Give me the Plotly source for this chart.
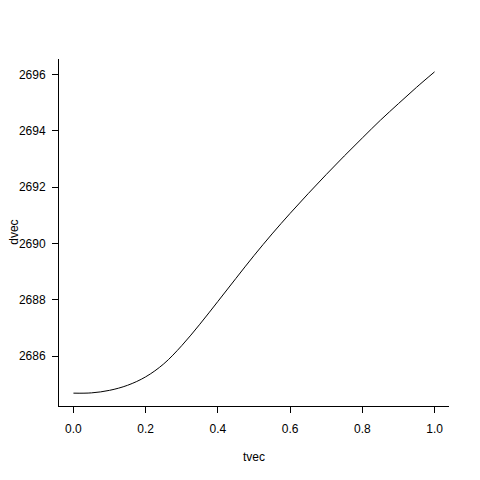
import plotly.graph_objects as go

tvec = [0.00, 0.05, 0.10, 0.15, 0.20, 0.25, 0.30, 0.35, 0.40, 0.45, 0.50,
        0.55, 0.60, 0.65, 0.70, 0.75, 0.80, 0.85, 0.90, 0.95, 1.00]
dvec = [2684.68, 2684.69, 2684.78, 2684.96, 2685.26, 2685.72, 2686.37, 2687.13,
        2687.94, 2688.76, 2689.57, 2690.34, 2691.07, 2691.77, 2692.45, 2693.11,
        2693.75, 2694.38, 2694.97, 2695.55, 2696.10]
xticks = [0.0, 0.2, 0.4, 0.6, 0.8, 1.0]
yticks = [2686, 2688, 2690, 2692, 2694, 2696]


def pad(vals):
    lo, hi = min(vals), max(vals)
    d = (hi - lo) * 0.04
    return [lo - d, hi + d]


fig = go.Figure(go.Scatter(x=tvec, y=dvec, mode="lines", line_shape="spline",
                           line=dict(color="black", width=1), showlegend=False))

font = dict(family="Liberation Sans, Arial, sans-serif", size=12, color="black")
fig.update_layout(
    width=480, height=480,
    margin=dict(l=51, r=39, t=51, b=82),
    paper_bgcolor="white", plot_bgcolor="white",
    font=font,
    annotations=[
        dict(text="tvec", xref="paper", yref="paper", x=0.501, y=-0.147,
             xanchor="center", yanchor="middle", showarrow=False, font=font),
        dict(text="dvec", xref="paper", yref="paper", x=-0.116, y=0.5014,
             xanchor="center", yanchor="middle", showarrow=False, textangle=-90, font=font),
    ],
)
fig.update_xaxes(range=pad(tvec), tickvals=xticks, ticktext=[f"{v:.1f}" for v in xticks],
                 showgrid=False, zeroline=False, showline=True, linecolor="black", linewidth=1,
                 ticks="outside", ticklen=6, tickcolor="black", tickwidth=1, automargin=False,
                 ticklabelstandoff=6)
fig.update_yaxes(range=pad(dvec), tickvals=yticks, ticktext=[str(v) for v in yticks],
                 showgrid=False, zeroline=False, showline=True, linecolor="black", linewidth=1,
                 ticks="outside", ticklen=6, tickcolor="black", tickwidth=1, automargin=False,
                 ticklabelstandoff=4)
fig.write_html("out.html")
